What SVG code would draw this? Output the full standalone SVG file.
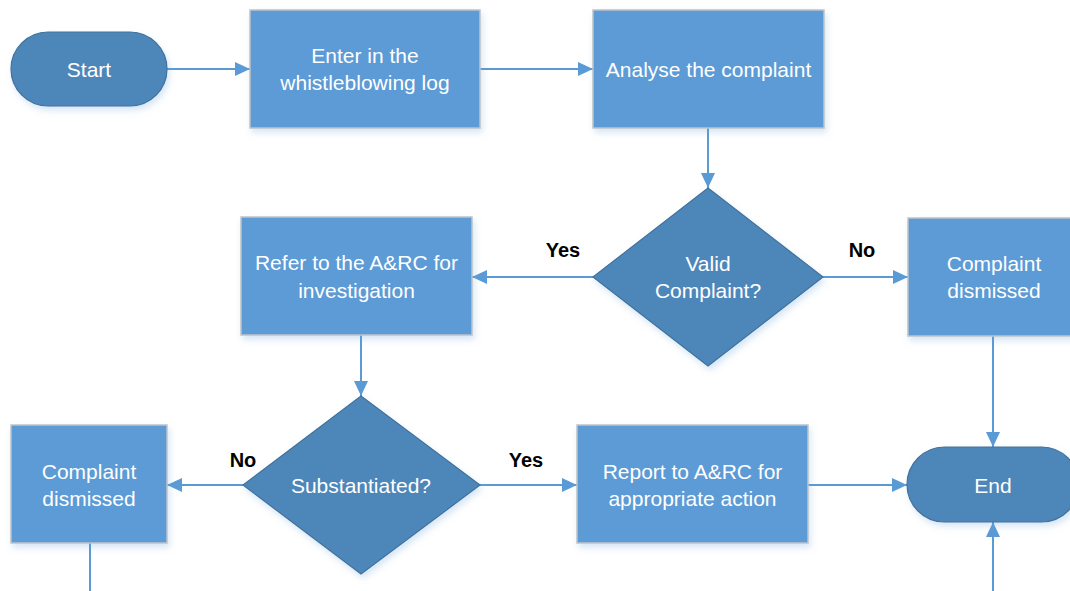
<svg xmlns="http://www.w3.org/2000/svg" width="1070" height="591" viewBox="0 0 1070 591">
<style>
.box{fill:#5b9bd5;stroke:#bfc3c8;stroke-width:1.5;filter:url(#sh)}
.dark{fill:#4e87ba;stroke:#41719c;stroke-width:1.2;filter:url(#sh)}
.t{font-family:"Liberation Sans",Arial,sans-serif;font-size:21px;fill:#ffffff;text-anchor:middle}
.lbl{font-family:"Liberation Sans",Arial,sans-serif;font-size:20px;font-weight:bold;fill:#000;text-anchor:middle}
.c{fill:none;stroke:#5b9bd5;stroke-width:2;marker-end:url(#ah)}
.c2{fill:none;stroke:#5b9bd5;stroke-width:2}
</style>
<defs>
<marker id="ah" markerUnits="userSpaceOnUse" markerWidth="16" markerHeight="14" refX="15" refY="7" orient="auto">
<path d="M0,0 L15,7 L0,14 Z" fill="#5b9bd5"/>
</marker>
<filter id="sh" x="-10%" y="-10%" width="130%" height="130%">
<feDropShadow dx="2" dy="4" stdDeviation="3" flood-color="#5b9bd5" flood-opacity="0.25"/>
</filter>
</defs>
<rect width="1070" height="591" fill="#ffffff"/>
<g id="connectors">
<path class="c" d="M167,69 L250,69"/>
<path class="c" d="M480,69 L593,69"/>
<path class="c" d="M708,128 L708,188"/>
<path class="c" d="M593,277 L472,277"/>
<path class="c" d="M823,277 L908,277"/>
<path class="c" d="M993,336 L993,447"/>
<path class="c" d="M361,335 L361,396"/>
<path class="c" d="M243,485 L167,485"/>
<path class="c" d="M480,485 L577,485"/>
<path class="c" d="M808,485 L907,485"/>
<path class="c2" d="M90,543 L90,591"/>
<path class="c" d="M993,591 L993,522"/>
<text class="lbl" x="563" y="257">Yes</text>
<text class="lbl" x="862" y="257">No</text>
<text class="lbl" x="243" y="467">No</text>
<text class="lbl" x="526" y="467">Yes</text>
</g>
<g id="start">
<rect class="dark" x="11" y="32" width="156" height="74" rx="37" ry="37"/>
<text class="t" x="89" y="76.5">Start</text>
</g>
<g id="enter">
<rect class="box" x="250" y="10" width="230" height="118"/>
<text class="t" x="365" y="63">Enter in the</text>
<text class="t" x="365" y="90">whistleblowing log</text>
</g>
<g id="analyse">
<rect class="box" x="593" y="10" width="231" height="118"/>
<text class="t" x="708.5" y="76.5">Analyse the complaint</text>
</g>
<g id="valid">
<polygon class="dark" points="708,188 823,277 708,366 593,277"/>
<text class="t" x="708" y="271">Valid</text>
<text class="t" x="708" y="298">Complaint?</text>
</g>
<g id="refer">
<rect class="box" x="241" y="217" width="231" height="118"/>
<text class="t" x="356.5" y="270">Refer to the A&amp;RC for</text>
<text class="t" x="356.5" y="298">investigation</text>
</g>
<g id="dismissed1">
<rect class="box" x="908" y="218" width="170" height="118"/>
<text class="t" x="994" y="271">Complaint</text>
<text class="t" x="994" y="298">dismissed</text>
</g>
<g id="substantiated">
<polygon class="dark" points="361,396 480,485 361,574 243,485"/>
<text class="t" x="361" y="492.5">Substantiated?</text>
</g>
<g id="dismissed2">
<rect class="box" x="11" y="425" width="156" height="118"/>
<text class="t" x="89" y="479">Complaint</text>
<text class="t" x="89" y="506">dismissed</text>
</g>
<g id="report">
<rect class="box" x="577" y="425" width="231" height="118"/>
<text class="t" x="692.5" y="479">Report to A&amp;RC for</text>
<text class="t" x="692.5" y="506">appropriate action</text>
</g>
<g id="end">
<rect class="dark" x="907" y="447" width="172" height="75" rx="37.5" ry="37.5"/>
<text class="t" x="993" y="492.5">End</text>
</g>
</svg>
